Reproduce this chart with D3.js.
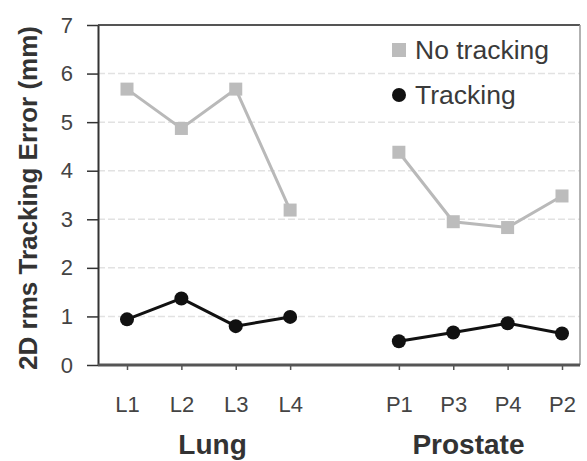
<!DOCTYPE html>
<html>
<head>
<meta charset="utf-8">
<script src="https://cdn.jsdelivr.net/npm/d3@7"></script>
<style>
  body { margin: 0; background: #fff; }
  svg { display: block; font-family: "Liberation Sans", Arial, sans-serif; }
</style>
</head>
<body>
<div id="graf"></div>
<script>
// datos
const categories = ['L1', 'L2', 'L3', 'L4', 'P1', 'P3', 'P4', 'P2']
const groupOf    = ['Lung', 'Lung', 'Lung', 'Lung', 'Prostate', 'Prostate', 'Prostate', 'Prostate']
const groupNames = ['Lung', 'Prostate']
const noTracking = [5.68, 4.87, 5.68, 3.19, 4.38, 2.95, 2.83, 3.48]
const tracking   = [0.94, 1.37, 0.80, 0.99, 0.49, 0.67, 0.86, 0.65]
const yTicks     = [0, 1, 2, 3, 4, 5, 6, 7]
const seriesNames = ['No tracking', 'Tracking']

// configuración
const ancho_total = 587
const alto_total = 461
const margins = { top: 25, left: 98, right: 7, bottom: 96 }
const ancho = ancho_total - margins.left - margins.right
const alto  = alto_total - margins.top - margins.bottom

const svg = d3.select('#graf').append('svg')
  .attr('width', ancho_total)
  .attr('height', alto_total)

const g = svg.append('g')
  .attr('transform', `translate(${margins.left},${margins.top})`)

// el hueco entre grupos es una posición vacía
const domain = categories.slice(0, 4).concat(['_gap'], categories.slice(4))
const x = d3.scalePoint().domain(domain).range([29, 464])
const y = d3.scaleLinear().domain([0, 7]).range([alto, 0])

// rejilla
g.selectAll('line.grid')
  .data(yTicks.filter(d => d > 0 && d < 7))
  .enter().append('line')
  .attr('class', 'grid')
  .attr('x1', 0).attr('x2', ancho)
  .attr('y1', d => y(d)).attr('y2', d => y(d))
  .attr('stroke', '#e2e2e2')
  .attr('stroke-width', 1.5)
  .attr('stroke-dasharray', '7,3')

// borde superior y derecho
g.append('line').attr('x1', 0).attr('x2', ancho).attr('y1', 0).attr('y2', 0)
  .attr('stroke', '#555').attr('stroke-width', 2)
g.append('line').attr('x1', ancho).attr('x2', ancho).attr('y1', 0).attr('y2', alto)
  .attr('stroke', '#999').attr('stroke-width', 1.5)

// ejes
const yAxis = g.append('g')
  .call(d3.axisLeft(y).tickValues(yTicks).tickFormat(d3.format('d'))
    .tickSize(11).tickPadding(14).tickSizeOuter(0))
yAxis.select('.domain').attr('stroke', '#333').attr('stroke-width', 2)
yAxis.selectAll('.tick line').attr('stroke', '#333').attr('stroke-width', 1.5)
yAxis.selectAll('.tick text')
  .style('font-size', '22px').attr('fill', '#444')

const xAxis = g.append('g')
  .attr('transform', `translate(0,${alto})`)
  .call(d3.axisBottom(x).tickValues(categories).tickSize(5).tickPadding(26).tickSizeOuter(0))
xAxis.select('.domain').attr('d', `M0,0H${ancho}`).attr('stroke', '#555').attr('stroke-width', 3)
xAxis.selectAll('.tick line').attr('stroke', '#555').attr('stroke-width', 1.5)
xAxis.selectAll('.tick text').style('font-size', '22px').attr('fill', '#444')

// títulos
svg.append('text')
  .attr('transform', `translate(37,${198}) rotate(-90)`)
  .attr('text-anchor', 'middle')
  .style('font-size', '26px').style('font-weight', 'bold')
  .attr('fill', '#333')
  .text('2D rms Tracking Error (mm)')

const nudge = { Lung: 4, Prostate: -12 }
g.selectAll('text.group')
  .data(groupNames)
  .enter().append('text')
  .attr('class', 'group')
  .attr('x', name => d3.mean(categories.filter((c, i) => groupOf[i] === name), c => x(c)) + nudge[name])
  .attr('y', alto + 89)
  .attr('text-anchor', 'middle')
  .style('font-size', '28px').style('font-weight', 'bold')
  .attr('fill', '#333')
  .text(d => d)

// series
const rows = categories.map((c, i) => ({ cat: c, group: groupOf[i], no: noTracking[i], tr: tracking[i] }))
const line = key => d3.line().x(d => x(d.cat)).y(d => y(d[key]))

groupNames.forEach(name => {
  const sub = rows.filter(d => d.group === name)
  g.append('path').datum(sub)
    .attr('d', line('no'))
    .attr('fill', 'none').attr('stroke', '#b9b9b9').attr('stroke-width', 3)
  g.append('path').datum(sub)
    .attr('d', line('tr'))
    .attr('fill', 'none').attr('stroke', '#111').attr('stroke-width', 3)
})

g.selectAll('rect.no')
  .data(rows)
  .enter().append('rect')
  .attr('class', 'no')
  .attr('x', d => x(d.cat) - 6.5).attr('y', d => y(d.no) - 6.5)
  .attr('width', 13).attr('height', 13)
  .attr('fill', '#bcbcbc')

g.selectAll('circle.tr')
  .data(rows)
  .enter().append('circle')
  .attr('class', 'tr')
  .attr('cx', d => x(d.cat)).attr('cy', d => y(d.tr))
  .attr('r', 7)
  .attr('fill', '#111')

// leyenda
const legend = svg.append('g').attr('transform', 'translate(399,50)')
legend.append('rect').attr('x', -7).attr('y', -7).attr('width', 14).attr('height', 14).attr('fill', '#bcbcbc')
legend.append('circle').attr('cx', 0).attr('cy', 45).attr('r', 7).attr('fill', '#111')
legend.selectAll('text')
  .data(seriesNames)
  .enter().append('text')
  .attr('x', 16).attr('y', (d, i) => 9 + i * 45)
  .style('font-size', '26.5px')
  .attr('fill', '#3a3a3a')
  .text(d => d)
</script>
</body>
</html>
